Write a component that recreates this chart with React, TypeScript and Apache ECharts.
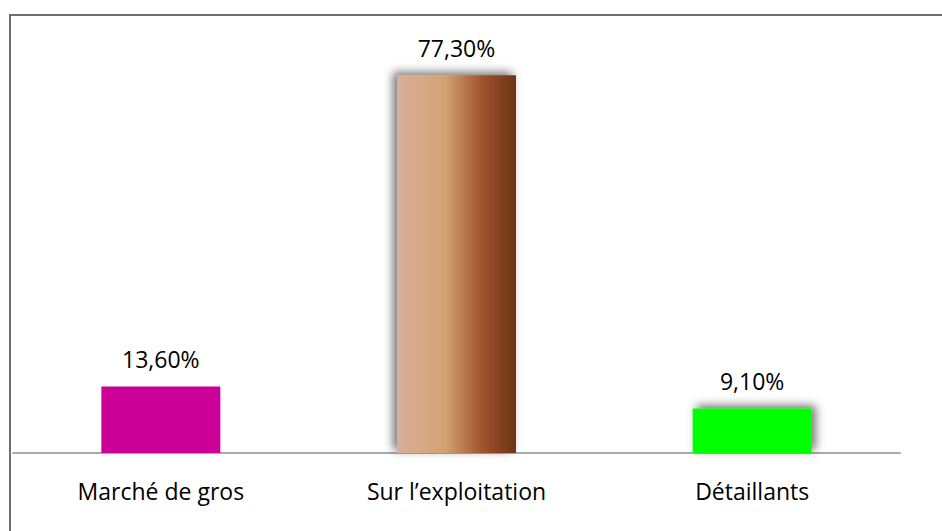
import React, { useEffect, useRef } from "react";
import * as echarts from "echarts";

const categories = ["Marché de gros", "Sur l’exploitation", "Détaillants"];
const values = [13.6, 77.3, 9.1];
const valueLabels = ["13,60%", "77,30%", "9,10%"];

export default function App() {
  const ref = useRef<HTMLDivElement>(null);
  useEffect(() => {
    if (!ref.current) return;
    const chart = echarts.init(ref.current, null, { renderer: "svg" });
    const font = "Open Sans, Liberation Sans, sans-serif";
    const grad = new echarts.graphic.LinearGradient(0, 0, 1, 0, [
      { offset: 0, color: "#D9AE9C" },
      { offset: 0.4, color: "#D4A373" },
      { offset: 0.72, color: "#A0522D" },
      { offset: 1, color: "#6A3414" },
    ]);
    const itemStyles = [
      { color: "#CC0099" },
      { color: grad, shadowBlur: 10, shadowColor: "rgba(0,0,0,0.55)", shadowOffsetX: -4, shadowOffsetY: -3 },
      { color: "#00FF00", shadowBlur: 10, shadowColor: "rgba(0,0,0,0.55)", shadowOffsetX: 4, shadowOffsetY: -3 },
    ];
    chart.setOption({
      animation: false,
      backgroundColor: "#ffffff",
      graphic: [
        {
          type: "rect",
          shape: { x: 10, y: 15, width: 1000, height: 600 },
          style: { fill: "none", stroke: "#6E6E6E", lineWidth: 2 },
          silent: true,
        },
      ],
      grid: { left: 13, right: 42, top: 62, bottom: 78, containLabel: false },
      xAxis: {
        type: "category",
        data: categories,
        axisLine: { show: true, lineStyle: { color: "#ABABAB", width: 2 } },
        axisTick: { show: false },
        axisLabel: { color: "#000", fontSize: 23, fontFamily: font, margin: 26 },
      },
      yAxis: {
        type: "value",
        min: 0,
        max: 80,
        show: false,
        splitLine: { show: false },
      },
      series: [
        {
          type: "bar",
          barWidth: 119,
          data: values.map((v, i) => ({ value: v, itemStyle: itemStyles[i] })),
          label: {
            show: true,
            position: "top",
            distance: 16,
            color: "#000",
            fontSize: 23,
            fontFamily: font,
            formatter: (p: any) => valueLabels[p.dataIndex],
          },
        },
      ],
    });
    return () => chart.dispose();
  }, []);
  return (
    <div
      ref={ref}
      style={{ position: "fixed", left: 0, top: 0, width: 942, height: 531 }}
    />
  );
}
